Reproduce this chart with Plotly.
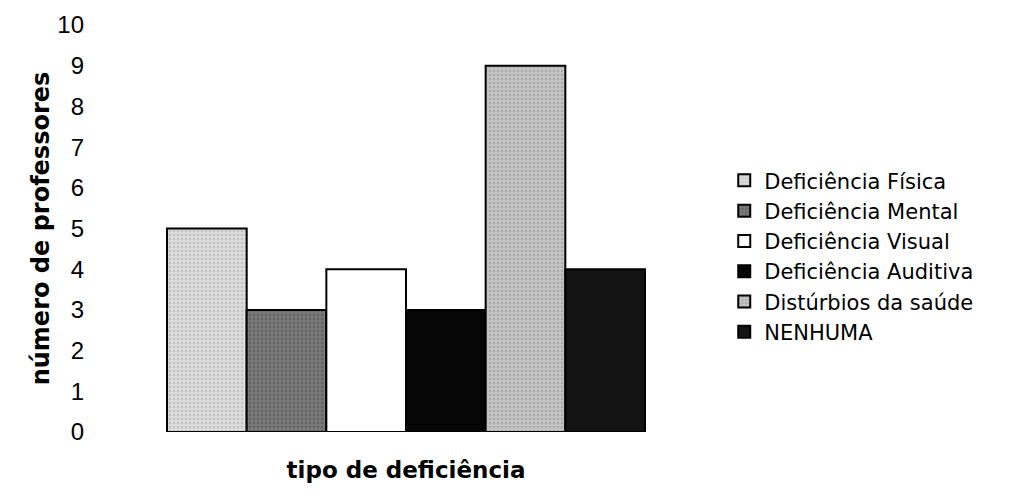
import plotly.graph_objects as go

category = ["tipo de deficiência"]
series_names = [
    "Deficiência Física",
    "Deficiência Mental",
    "Deficiência Visual",
    "Deficiência Auditiva",
    "Distúrbios da saúde",
    "NENHUMA",
]
series_values = [5, 3, 4, 3, 9, 4]
fill_colors = ["#dcdcdc", "#7a7a7a", "#ffffff", "#060606", "#c4c4c4", "#141414"]
pattern_fg = ["#a8a8a8", "#4a4a4a", None, None, "#8e8e8e", None]
y_ticks = list(range(0, 11))

fig = go.Figure()
for name, val, col, fg in zip(series_names, series_values, fill_colors, pattern_fg):
    marker = dict(color=col, line=dict(color="#000000", width=2))
    if fg is not None:
        marker["pattern"] = dict(shape=".", fgcolor=fg, bgcolor=col, size=4, solidity=0.35)
    fig.add_trace(go.Bar(x=category, y=[val], name=name, marker=marker))

fig.update_layout(
    width=1021,
    height=496,
    paper_bgcolor="white",
    plot_bgcolor="white",
    barmode="group",
    bargap=0.219,
    bargroupgap=0,
    margin=dict(l=92, r=317, t=17, b=72, autoexpand=False),
    font=dict(family="Liberation Sans, Arial, sans-serif", color="#000000"),
    legend=dict(
        x=1.02,
        xanchor="left",
        y=0.432,
        yanchor="middle",
        font=dict(family="DejaVu Sans", size=21, color="#000000"),
        bgcolor="rgba(0,0,0,0)",
        tracegroupgap=0,
    ),
    showlegend=True,
)
fig.update_xaxes(
    showticklabels=False,
    showgrid=False,
    zeroline=False,
    showline=False,
    ticks="",
    title=dict(
        text="<b>tipo de deficiência</b>",
        font=dict(family="DejaVu Sans", size=23),
        standoff=29,
    ),
)
fig.update_yaxes(
    range=[0, 10],
    tickvals=y_ticks,
    ticktext=[str(v) for v in y_ticks],
    tickfont=dict(family="Liberation Sans, Arial", size=24),
    showgrid=False,
    zeroline=False,
    showline=False,
    ticks="",
    ticklabelstandoff=15,
    title=dict(
        text="<b>número de professores</b>",
        font=dict(family="DejaVu Sans", size=24),
        standoff=0,
    ),
)

fig.write_html("out.html")
